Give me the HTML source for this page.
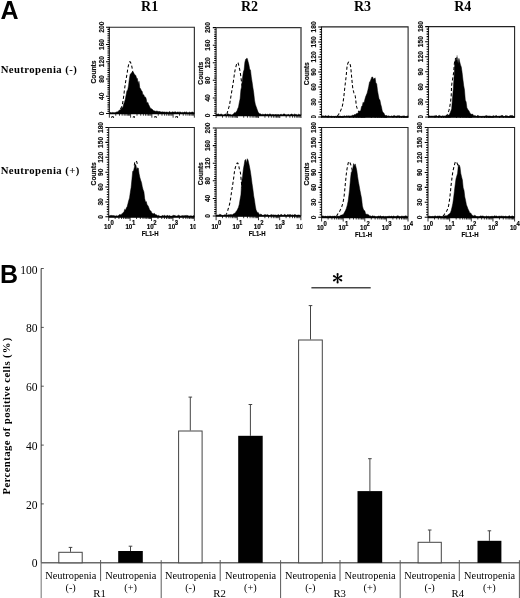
<!DOCTYPE html>
<html><head><meta charset="utf-8"><style>
html,body{margin:0;padding:0;background:#fff}svg{display:block}
text{font-family:"Liberation Sans",sans-serif;fill:#000}
.tk{font-size:7.2px;font-weight:bold;fill:#111}.ct{font-size:6.9px;font-weight:bold;fill:#111}.xt{font-size:7.8px;font-weight:bold}.sup{font-size:6.6px;font-weight:bold}.fl{font-size:7.7px;font-weight:bold}.xt,.sup,.fl,.tk,.ct{stroke:#000;stroke-width:0.18px}
.sb{font-family:"Liberation Serif",serif;font-weight:bold}.sr{font-family:"Liberation Serif",serif}
</style></head><body>
<svg width="520" height="598" viewBox="0 0 520 598">
<defs><clipPath id="c1"><rect x="0" y="0" width="520" height="118"/></clipPath><clipPath id="j0"><rect x="85" y="0" width="111" height="118"/></clipPath><clipPath id="j1"><rect x="196" y="0" width="106.4" height="118"/></clipPath><clipPath id="j2"><rect x="302.4" y="0" width="111" height="118"/></clipPath><clipPath id="j3"><rect x="409" y="0" width="111" height="118"/></clipPath><clipPath id="k0"><rect x="85" y="118" width="110.7" height="130"/></clipPath><clipPath id="k1"><rect x="196" y="118" width="106.4" height="130"/></clipPath><clipPath id="k2"><rect x="302.4" y="118" width="111" height="130"/></clipPath><clipPath id="k3"><rect x="409" y="118" width="111" height="130"/></clipPath><filter id="bl" x="-5%" y="-5%" width="110%" height="110%"><feGaussianBlur stdDeviation="0.35"/></filter></defs>
<rect width="520" height="598" fill="#fff"/>
<g style="opacity:0.999">
<text x="0.6" y="18.7" font-size="25" font-weight="bold">A</text>
<text x="0.0" y="283.2" font-size="25" font-weight="bold">B</text>
<text class="sb" x="149.6" y="10.6" font-size="14" text-anchor="middle">R1</text>
<text class="sb" x="249.5" y="10.6" font-size="14" text-anchor="middle">R2</text>
<text class="sb" x="362.5" y="10.6" font-size="14" text-anchor="middle">R3</text>
<text class="sb" x="462.8" y="10.6" font-size="14" text-anchor="middle">R4</text>
<text class="sb" x="0.7" y="72.5" font-size="10.7" style="letter-spacing:0.42px">Neutropenia (-)</text>
<text class="sb" x="0.7" y="174.3" font-size="10.7" style="letter-spacing:0.42px">Neutropenia (+)</text>
<g filter="url(#bl)">
<g clip-path="url(#c1)">
<g clip-path="url(#j0)"><path d="M120.50,109.00 L120.63,108.72 L120.81,108.38 L121.03,107.98 L121.26,107.51 L121.51,106.98 L121.76,106.39 L121.99,105.73 L122.20,105.00 L122.39,104.20 L122.57,103.33 L122.74,102.39 L122.91,101.38 L123.08,100.32 L123.25,99.19 L123.42,98.02 L123.60,96.80 L123.78,95.50 L123.96,94.12 L124.13,92.67 L124.31,91.17 L124.50,89.64 L124.69,88.11 L124.89,86.59 L125.10,85.10 L125.33,83.60 L125.59,82.04 L125.86,80.46 L126.14,78.89 L126.41,77.36 L126.67,75.92 L126.90,74.58 L127.10,73.40 L127.26,72.38 L127.38,71.51 L127.48,70.76 L127.56,70.08 L127.64,69.45 L127.74,68.83 L127.85,68.19 L128.00,67.50 L128.18,66.71 L128.39,65.83 L128.61,64.91 L128.85,64.01 L129.09,63.19 L129.34,62.49 L129.57,61.98 L129.80,61.70 L130.02,61.68 L130.24,61.86 L130.47,62.23 L130.69,62.72 L130.90,63.30 L131.11,63.94 L131.31,64.58 L131.50,65.20 L131.68,65.84 L131.84,66.58 L132.00,67.37 L132.16,68.19 L132.30,69.00 L132.44,69.78 L132.57,70.49 L132.70,71.10 L132.82,71.63 L132.95,72.10 L133.06,72.53 L133.17,72.92 L133.28,73.26 L133.37,73.55 L133.44,73.80 L133.50,74.00" fill="none" stroke="#000" stroke-width="1.05" stroke-dasharray="3.1 2.2" stroke-linejoin="round"/>
<path d="M109.3,113.5L109.3,112.6L110.1,112.8L110.9,112.3L111.7,112.9L112.5,112.4L113.3,112.6L114.1,113.0L114.9,112.4L115.7,112.4L116.5,111.9L117.3,111.9L118.1,111.4L118.9,110.4L119.7,110.0L120.5,109.8L121.3,108.4L122.1,107.4L122.9,107.4L123.7,104.1L124.5,101.9L125.3,99.3L126.1,95.1L126.9,90.9L127.7,89.9L128.5,85.9L129.3,79.3L130.1,74.6L130.9,73.4L131.7,72.8L132.5,71.4L133.3,72.6L134.2,73.8L135.0,75.1L135.8,75.4L136.6,78.2L137.4,78.5L138.2,83.7L139.0,81.3L139.8,87.8L140.6,88.7L141.4,90.6L142.2,91.4L143.0,94.9L143.8,94.7L144.6,96.9L145.4,96.9L146.2,98.8L147.0,103.2L147.8,102.3L148.6,104.6L149.4,106.1L150.2,107.9L151.0,108.5L151.8,108.9L152.6,109.6L153.4,110.6L154.2,110.9L155.0,110.8L155.8,111.5L156.6,111.0L157.4,111.2L158.2,111.3L159.0,111.9L159.8,111.1L160.6,112.0L161.4,112.0L162.2,111.8L163.0,112.0L163.8,112.0L164.6,111.9L165.4,112.2L166.2,112.1L167.0,112.0L167.8,112.3L168.6,112.4L169.4,111.4L170.2,112.2L171.0,112.2L171.8,112.3L172.6,111.8L173.4,112.1L174.2,112.3L175.0,111.6L175.8,112.1L176.6,112.4L177.4,112.0L178.2,112.0L179.0,112.4L179.8,111.9L180.6,111.9L181.4,112.7L182.2,112.2L183.0,112.5L183.8,112.6L184.6,111.8L185.4,112.4L186.2,111.8L187.0,112.4L187.8,112.7L188.6,112.7L189.4,111.9L190.2,112.4L191.0,112.6L191.8,112.1L192.6,112.0L193.4,112.4L194.2,112.8L194.3,113.5Z" fill="#000" stroke="#000" stroke-width="0.5"/>
<path d="M109.35,113.5V27.2H194.35V113.5" fill="none" stroke="#222" stroke-width="1.1"/>
<path d="M109.35,113.5H194.35" fill="none" stroke="#000" stroke-width="1.7"/>
<path d="M109.35,113.50h-3.3M109.35,111.34h-1.9M109.35,109.19h-1.9M109.35,107.03h-1.9M109.35,104.87h-1.9M109.35,102.71h-1.9M109.35,100.56h-1.9M109.35,98.40h-1.9M109.35,96.24h-3.3M109.35,94.08h-1.9M109.35,91.93h-1.9M109.35,89.77h-1.9M109.35,87.61h-1.9M109.35,85.45h-1.9M109.35,83.30h-1.9M109.35,81.14h-1.9M109.35,78.98h-3.3M109.35,76.82h-1.9M109.35,74.67h-1.9M109.35,72.51h-1.9M109.35,70.35h-1.9M109.35,68.19h-1.9M109.35,66.04h-1.9M109.35,63.88h-1.9M109.35,61.72h-3.3M109.35,59.56h-1.9M109.35,57.41h-1.9M109.35,55.25h-1.9M109.35,53.09h-1.9M109.35,50.93h-1.9M109.35,48.78h-1.9M109.35,46.62h-1.9M109.35,44.46h-3.3M109.35,42.30h-1.9M109.35,40.15h-1.9M109.35,37.99h-1.9M109.35,35.83h-1.9M109.35,33.67h-1.9M109.35,31.52h-1.9M109.35,29.36h-1.9M109.35,27.20h-3.3" stroke="#000" stroke-width="1.05" fill="none"/>
<text class="tk" transform="translate(103.6,113.5) rotate(-90) scale(0.92,1)" text-anchor="middle">0</text>
<text class="tk" transform="translate(103.6,96.2) rotate(-90) scale(0.92,1)" text-anchor="middle">40</text>
<text class="tk" transform="translate(103.6,79.0) rotate(-90) scale(0.92,1)" text-anchor="middle">80</text>
<text class="tk" transform="translate(103.6,61.7) rotate(-90) scale(0.92,1)" text-anchor="middle">120</text>
<text class="tk" transform="translate(103.6,44.5) rotate(-90) scale(0.92,1)" text-anchor="middle">160</text>
<text class="tk" transform="translate(103.6,27.2) rotate(-90) scale(0.92,1)" text-anchor="middle">200</text>
<text class="ct" transform="translate(96.2,72.0) rotate(-90) scale(0.97,1)" text-anchor="middle">Counts</text>
<path d="M109.35,113.5v4.2M115.75,113.5v2.2M119.49,113.5v2.2M122.14,113.5v2.2M124.20,113.5v2.2M125.89,113.5v2.2M127.31,113.5v2.2M128.54,113.5v2.2M129.63,113.5v2.2M130.60,113.5v4.2M137.00,113.5v2.2M140.74,113.5v2.2M143.39,113.5v2.2M145.45,113.5v2.2M147.14,113.5v2.2M148.56,113.5v2.2M149.79,113.5v2.2M150.88,113.5v2.2M151.85,113.5v4.2M158.25,113.5v2.2M161.99,113.5v2.2M164.64,113.5v2.2M166.70,113.5v2.2M168.39,113.5v2.2M169.81,113.5v2.2M171.04,113.5v2.2M172.13,113.5v2.2M173.10,113.5v4.2M179.50,113.5v2.2M183.24,113.5v2.2M185.89,113.5v2.2M187.95,113.5v2.2M189.64,113.5v2.2M191.06,113.5v2.2M192.29,113.5v2.2M193.38,113.5v2.2M194.35,113.5v4.2" stroke="#000" stroke-width="0.8" fill="none"/>
<text class="xt" transform="translate(104.6,124.8) scale(0.8,1)">10</text><text class="sup" transform="translate(111.1,120.8) scale(0.9,1)">0</text>
<text class="xt" transform="translate(125.9,124.8) scale(0.8,1)">10</text><text class="sup" transform="translate(132.4,120.8) scale(0.9,1)">1</text>
<text class="xt" transform="translate(147.2,124.8) scale(0.8,1)">10</text><text class="sup" transform="translate(153.7,120.8) scale(0.9,1)">2</text>
<text class="xt" transform="translate(168.4,124.8) scale(0.8,1)">10</text><text class="sup" transform="translate(174.9,120.8) scale(0.9,1)">3</text>
<text class="xt" transform="translate(189.7,124.8) scale(0.8,1)">10</text><text class="sup" transform="translate(196.2,120.8) scale(0.9,1)">4</text>
<text class="fl" transform="translate(150.5,133.1) scale(0.78,1)" text-anchor="middle">FL1-H</text></g>
<g clip-path="url(#j1)"><path d="M226.90,114.00 L227.10,113.33 L227.37,112.45 L227.69,111.40 L228.04,110.22 L228.41,108.97 L228.77,107.69 L229.11,106.42 L229.40,105.20 L229.65,104.03 L229.87,102.85 L230.08,101.65 L230.28,100.44 L230.47,99.19 L230.67,97.91 L230.87,96.58 L231.10,95.20 L231.34,93.75 L231.60,92.23 L231.87,90.66 L232.14,89.06 L232.41,87.43 L232.68,85.80 L232.94,84.19 L233.20,82.60 L233.44,81.00 L233.67,79.35 L233.90,77.69 L234.12,76.03 L234.35,74.42 L234.59,72.87 L234.84,71.42 L235.10,70.10 L235.39,68.82 L235.69,67.52 L236.01,66.26 L236.33,65.10 L236.66,64.09 L236.98,63.30 L237.30,62.79 L237.60,62.60 L237.89,62.80 L238.19,63.36 L238.48,64.20 L238.76,65.26 L239.04,66.45 L239.31,67.70 L239.56,68.94 L239.80,70.10 L240.02,71.23 L240.23,72.43 L240.43,73.67 L240.61,74.95 L240.79,76.25 L240.96,77.55 L241.13,78.84 L241.30,80.10 L241.47,81.41 L241.65,82.81 L241.82,84.25 L241.99,85.67 L242.15,87.02 L242.29,88.22 L242.41,89.24 L242.50,90.00" fill="none" stroke="#000" stroke-width="1.05" stroke-dasharray="3.1 2.2" stroke-linejoin="round"/>
<path d="M216.1,115.5L216.1,114.1L216.9,114.6L217.7,114.1L218.5,113.9L219.3,114.6L220.1,114.6L220.9,114.0L221.7,114.2L222.5,114.8L223.3,114.9L224.1,114.8L224.9,114.0L225.7,114.1L226.5,114.8L227.3,114.1L228.1,113.9L228.9,114.3L229.7,114.6L230.5,114.4L231.3,114.9L232.1,115.0L232.9,114.3L233.7,113.7L234.5,112.6L235.3,112.9L236.1,111.8L236.9,110.9L237.7,108.7L238.5,107.1L239.3,102.4L240.1,98.9L240.9,89.8L241.7,86.5L242.5,78.1L243.3,72.1L244.1,69.8L244.9,62.1L245.7,59.2L246.5,58.4L247.3,58.4L248.1,61.6L248.9,64.6L249.7,69.2L250.5,70.0L251.3,76.9L252.1,82.0L252.9,87.6L253.7,92.6L254.5,100.0L255.3,104.2L256.1,106.5L256.9,108.7L257.7,111.1L258.5,112.8L259.3,113.4L260.1,114.0L260.9,113.8L261.7,114.8L262.5,114.2L263.3,114.3L264.1,114.8L264.9,114.0L265.7,113.9L266.5,114.8L267.3,114.0L268.1,114.6L268.9,114.5L269.7,113.9L270.5,114.1L271.3,114.8L272.1,114.5L272.9,114.4L273.7,114.6L274.5,114.8L275.3,114.6L276.1,114.2L276.9,115.0L277.7,114.4L278.5,114.5L279.3,115.0L280.1,114.6L280.9,114.3L281.7,114.4L282.5,114.9L283.3,113.9L284.1,114.1L284.9,113.9L285.7,114.9L286.5,114.7L287.3,115.0L288.1,114.1L288.9,114.7L289.7,114.9L290.5,114.5L291.3,114.0L292.1,114.1L292.9,114.7L293.7,114.8L294.5,114.0L295.3,114.4L296.1,114.2L296.9,114.9L297.7,114.9L298.5,114.2L299.3,114.5L300.1,114.9L300.9,114.0L301.0,115.5Z" fill="#000" stroke="#000" stroke-width="0.5"/>
<path d="M216.1,115.5V27.6" fill="none" stroke="#222" stroke-width="1.1"/>
<path d="M216.1,27.6H301.0" fill="none" stroke="#333" stroke-width="1.2"/>
<path d="M301.0,27.1V115.5" fill="none" stroke="#555" stroke-width="1.5"/>
<path d="M216.1,115.5H301.0" fill="none" stroke="#000" stroke-width="1.7"/>
<path d="M216.1,115.50h-3.3M216.1,113.30h-1.9M216.1,111.11h-1.9M216.1,108.91h-1.9M216.1,106.71h-1.9M216.1,104.51h-1.9M216.1,102.31h-1.9M216.1,100.12h-1.9M216.1,97.92h-3.3M216.1,95.72h-1.9M216.1,93.53h-1.9M216.1,91.33h-1.9M216.1,89.13h-1.9M216.1,86.93h-1.9M216.1,84.73h-1.9M216.1,82.54h-1.9M216.1,80.34h-3.3M216.1,78.14h-1.9M216.1,75.95h-1.9M216.1,73.75h-1.9M216.1,71.55h-1.9M216.1,69.35h-1.9M216.1,67.16h-1.9M216.1,64.96h-1.9M216.1,62.76h-3.3M216.1,60.56h-1.9M216.1,58.36h-1.9M216.1,56.17h-1.9M216.1,53.97h-1.9M216.1,51.77h-1.9M216.1,49.57h-1.9M216.1,47.38h-1.9M216.1,45.18h-3.3M216.1,42.98h-1.9M216.1,40.78h-1.9M216.1,38.59h-1.9M216.1,36.39h-1.9M216.1,34.19h-1.9M216.1,31.99h-1.9M216.1,29.80h-1.9M216.1,27.60h-3.3" stroke="#000" stroke-width="1.05" fill="none"/>
<text class="tk" transform="translate(210.4,115.5) rotate(-90) scale(0.92,1)" text-anchor="middle">0</text>
<text class="tk" transform="translate(210.4,97.9) rotate(-90) scale(0.92,1)" text-anchor="middle">40</text>
<text class="tk" transform="translate(210.4,80.3) rotate(-90) scale(0.92,1)" text-anchor="middle">80</text>
<text class="tk" transform="translate(210.4,62.8) rotate(-90) scale(0.92,1)" text-anchor="middle">120</text>
<text class="tk" transform="translate(210.4,45.2) rotate(-90) scale(0.92,1)" text-anchor="middle">160</text>
<text class="tk" transform="translate(210.4,27.6) rotate(-90) scale(0.92,1)" text-anchor="middle">200</text>
<text class="ct" transform="translate(203.0,73.2) rotate(-90) scale(0.97,1)" text-anchor="middle">Counts</text>
<path d="M216.10,115.5v4.2M222.49,115.5v2.2M226.23,115.5v2.2M228.88,115.5v2.2M230.94,115.5v2.2M232.62,115.5v2.2M234.04,115.5v2.2M235.27,115.5v2.2M236.35,115.5v2.2M237.32,115.5v4.2M243.71,115.5v2.2M247.45,115.5v2.2M250.10,115.5v2.2M252.16,115.5v2.2M253.84,115.5v2.2M255.26,115.5v2.2M256.49,115.5v2.2M257.58,115.5v2.2M258.55,115.5v4.2M264.94,115.5v2.2M268.68,115.5v2.2M271.33,115.5v2.2M273.39,115.5v2.2M275.07,115.5v2.2M276.49,115.5v2.2M277.72,115.5v2.2M278.80,115.5v2.2M279.77,115.5v4.2M286.16,115.5v2.2M289.90,115.5v2.2M292.55,115.5v2.2M294.61,115.5v2.2M296.29,115.5v2.2M297.71,115.5v2.2M298.94,115.5v2.2M300.03,115.5v2.2M301.00,115.5v4.2" stroke="#000" stroke-width="0.8" fill="none"/>
<text class="xt" transform="translate(211.4,126.8) scale(0.8,1)">10</text><text class="sup" transform="translate(217.9,122.8) scale(0.9,1)">0</text>
<text class="xt" transform="translate(232.6,126.8) scale(0.8,1)">10</text><text class="sup" transform="translate(239.1,122.8) scale(0.9,1)">1</text>
<text class="xt" transform="translate(253.9,126.8) scale(0.8,1)">10</text><text class="sup" transform="translate(260.4,122.8) scale(0.9,1)">2</text>
<text class="xt" transform="translate(275.1,126.8) scale(0.8,1)">10</text><text class="sup" transform="translate(281.6,122.8) scale(0.9,1)">3</text>
<text class="xt" transform="translate(296.3,126.8) scale(0.8,1)">10</text><text class="sup" transform="translate(302.8,122.8) scale(0.9,1)">4</text>
<text class="fl" transform="translate(257.2,135.1) scale(0.78,1)" text-anchor="middle">FL1-H</text></g>
<g clip-path="url(#j2)"><path d="M337.50,116.00 L337.59,115.87 L337.71,115.70 L337.85,115.50 L338.01,115.27 L338.18,115.02 L338.35,114.76 L338.53,114.48 L338.70,114.20 L338.87,113.92 L339.04,113.65 L339.21,113.37 L339.39,113.08 L339.58,112.75 L339.78,112.39 L339.98,111.97 L340.20,111.50 L340.44,110.97 L340.70,110.39 L340.98,109.77 L341.26,109.11 L341.54,108.40 L341.82,107.67 L342.07,106.90 L342.30,106.10 L342.50,105.28 L342.68,104.43 L342.85,103.56 L343.01,102.64 L343.15,101.69 L343.30,100.68 L343.45,99.62 L343.60,98.50 L343.75,97.30 L343.90,96.01 L344.05,94.65 L344.20,93.26 L344.35,91.83 L344.50,90.40 L344.65,88.99 L344.80,87.60 L344.96,86.24 L345.12,84.87 L345.29,83.51 L345.46,82.14 L345.62,80.78 L345.79,79.42 L345.95,78.06 L346.10,76.70 L346.24,75.30 L346.38,73.83 L346.51,72.34 L346.63,70.86 L346.76,69.43 L346.89,68.11 L347.04,66.91 L347.20,65.90 L347.38,65.04 L347.56,64.28 L347.76,63.63 L347.96,63.09 L348.17,62.66 L348.38,62.35 L348.59,62.16 L348.80,62.10 L349.01,62.16 L349.23,62.35 L349.46,62.66 L349.68,63.09 L349.90,63.63 L350.11,64.28 L350.32,65.04 L350.50,65.90 L350.67,66.91 L350.82,68.11 L350.96,69.43 L351.09,70.86 L351.21,72.34 L351.34,73.83 L351.47,75.30 L351.60,76.70 L351.74,78.10 L351.88,79.57 L352.02,81.07 L352.16,82.55 L352.29,83.98 L352.43,85.33 L352.57,86.55 L352.70,87.60 L352.83,88.47 L352.95,89.19 L353.07,89.78 L353.19,90.28 L353.31,90.72 L353.43,91.14 L353.56,91.55 L353.70,92.00 L353.85,92.46 L354.02,92.88 L354.20,93.28 L354.38,93.67 L354.55,94.05 L354.72,94.42 L354.87,94.80 L355.00,95.20 L355.11,95.58 L355.19,95.92 L355.26,96.24 L355.33,96.58 L355.38,96.94 L355.45,97.37 L355.52,97.88 L355.60,98.50 L355.69,99.26 L355.78,100.15 L355.86,101.13 L355.96,102.17 L356.06,103.22 L356.18,104.25 L356.33,105.23 L356.50,106.10 L356.71,106.90 L356.95,107.66 L357.21,108.39 L357.49,109.09 L357.77,109.75 L358.06,110.37 L358.34,110.95 L358.60,111.50 L358.86,112.01 L359.13,112.49 L359.41,112.93 L359.68,113.34 L359.94,113.70 L360.16,114.02 L360.35,114.28 L360.50,114.50" fill="none" stroke="#000" stroke-width="1.05" stroke-dasharray="3.1 2.2" stroke-linejoin="round"/>
<path d="M321.5,117.0L321.5,115.8L322.3,115.6L323.1,116.4L323.9,115.6L324.7,116.4L325.5,115.6L326.3,116.0L327.1,116.1L327.9,115.9L328.7,115.5L329.5,116.2L330.3,116.4L331.1,115.9L331.9,116.2L332.7,116.4L333.5,116.3L334.3,116.4L335.1,116.3L335.9,116.2L336.7,116.2L337.5,115.7L338.3,116.2L339.1,115.9L339.9,116.3L340.7,116.1L341.5,116.5L342.3,116.2L343.1,116.5L343.9,115.7L344.7,115.9L345.5,116.3L346.3,116.0L347.1,115.5L347.9,116.4L348.7,115.6L349.5,116.0L350.3,116.0L351.1,115.8L351.9,115.8L352.7,115.1L353.5,115.3L354.3,114.5L355.1,114.7L355.9,114.0L356.7,113.4L357.5,113.2L358.3,112.9L359.1,111.2L359.9,111.0L360.7,110.7L361.5,106.5L362.3,105.9L363.1,102.2L363.9,103.2L364.7,100.1L365.5,97.1L366.3,95.1L367.1,93.2L367.9,90.1L368.7,86.4L369.5,82.1L370.3,81.2L371.1,78.9L371.9,76.9L372.7,77.1L373.5,79.2L374.3,78.6L375.1,77.8L375.9,83.0L376.7,83.7L377.5,90.5L378.3,95.1L379.1,98.9L379.9,99.9L380.7,104.1L381.5,107.0L382.3,111.1L383.1,112.6L383.9,113.0L384.7,115.0L385.5,115.5L386.3,115.5L387.1,115.6L387.9,116.4L388.7,115.7L389.5,116.2L390.3,116.4L391.1,116.2L391.9,115.7L392.7,116.3L393.5,115.7L394.3,115.4L395.1,116.0L395.9,116.1L396.7,116.0L397.5,115.7L398.3,115.7L399.1,115.8L399.9,115.8L400.7,116.4L401.5,116.3L402.3,116.2L403.1,115.7L403.9,116.2L404.7,115.9L405.5,116.5L406.3,116.4L407.1,116.2L407.9,115.8L408.1,117.0Z" fill="#000" stroke="#000" stroke-width="0.5"/>
<path d="M321.5,117.0V26.9H408.1V117.0" fill="none" stroke="#222" stroke-width="1.1"/>
<path d="M321.5,117.0H408.1" fill="none" stroke="#000" stroke-width="1.7"/>
<path d="M321.5,117.00h-3.3M321.5,114.50h-1.9M321.5,111.99h-1.9M321.5,109.49h-1.9M321.5,106.99h-1.9M321.5,104.49h-1.9M321.5,101.98h-3.3M321.5,99.48h-1.9M321.5,96.98h-1.9M321.5,94.47h-1.9M321.5,91.97h-1.9M321.5,89.47h-1.9M321.5,86.97h-3.3M321.5,84.46h-1.9M321.5,81.96h-1.9M321.5,79.46h-1.9M321.5,76.96h-1.9M321.5,74.45h-1.9M321.5,71.95h-3.3M321.5,69.45h-1.9M321.5,66.94h-1.9M321.5,64.44h-1.9M321.5,61.94h-1.9M321.5,59.44h-1.9M321.5,56.93h-3.3M321.5,54.43h-1.9M321.5,51.93h-1.9M321.5,49.43h-1.9M321.5,46.92h-1.9M321.5,44.42h-1.9M321.5,41.92h-3.3M321.5,39.41h-1.9M321.5,36.91h-1.9M321.5,34.41h-1.9M321.5,31.91h-1.9M321.5,29.40h-1.9M321.5,26.90h-3.3" stroke="#000" stroke-width="1.05" fill="none"/>
<text class="tk" transform="translate(315.8,117.0) rotate(-90) scale(0.92,1)" text-anchor="middle">0</text>
<text class="tk" transform="translate(315.8,102.0) rotate(-90) scale(0.92,1)" text-anchor="middle">30</text>
<text class="tk" transform="translate(315.8,87.0) rotate(-90) scale(0.92,1)" text-anchor="middle">60</text>
<text class="tk" transform="translate(315.8,72.0) rotate(-90) scale(0.92,1)" text-anchor="middle">90</text>
<text class="tk" transform="translate(315.8,56.9) rotate(-90) scale(0.92,1)" text-anchor="middle">120</text>
<text class="tk" transform="translate(315.8,41.9) rotate(-90) scale(0.92,1)" text-anchor="middle">150</text>
<text class="tk" transform="translate(315.8,26.9) rotate(-90) scale(0.92,1)" text-anchor="middle">180</text>
<text class="ct" transform="translate(309.2,73.7) rotate(-90) scale(0.97,1)" text-anchor="middle">Counts</text>
<path d="M321.50,117.0v4.2M328.02,117.0v2.2M331.83,117.0v2.2M334.53,117.0v2.2M336.63,117.0v2.2M338.35,117.0v2.2M339.80,117.0v2.2M341.05,117.0v2.2M342.16,117.0v2.2M343.15,117.0v4.2M349.67,117.0v2.2M353.48,117.0v2.2M356.18,117.0v2.2M358.28,117.0v2.2M360.00,117.0v2.2M361.45,117.0v2.2M362.70,117.0v2.2M363.81,117.0v2.2M364.80,117.0v4.2M371.32,117.0v2.2M375.13,117.0v2.2M377.83,117.0v2.2M379.93,117.0v2.2M381.65,117.0v2.2M383.10,117.0v2.2M384.35,117.0v2.2M385.46,117.0v2.2M386.45,117.0v4.2M392.97,117.0v2.2M396.78,117.0v2.2M399.48,117.0v2.2M401.58,117.0v2.2M403.30,117.0v2.2M404.75,117.0v2.2M406.00,117.0v2.2M407.11,117.0v2.2M408.10,117.0v4.2" stroke="#000" stroke-width="0.8" fill="none"/>
<text class="xt" transform="translate(316.8,128.3) scale(0.8,1)">10</text><text class="sup" transform="translate(323.3,124.3) scale(0.9,1)">0</text>
<text class="xt" transform="translate(338.4,128.3) scale(0.8,1)">10</text><text class="sup" transform="translate(344.9,124.3) scale(0.9,1)">1</text>
<text class="xt" transform="translate(360.1,128.3) scale(0.8,1)">10</text><text class="sup" transform="translate(366.6,124.3) scale(0.9,1)">2</text>
<text class="xt" transform="translate(381.8,128.3) scale(0.8,1)">10</text><text class="sup" transform="translate(388.3,124.3) scale(0.9,1)">3</text>
<text class="xt" transform="translate(403.4,128.3) scale(0.8,1)">10</text><text class="sup" transform="translate(409.9,124.3) scale(0.9,1)">4</text>
<text class="fl" transform="translate(363.5,136.6) scale(0.78,1)" text-anchor="middle">FL1-H</text></g>
<g clip-path="url(#j3)"><path d="M445.50,116.30 L445.64,116.17 L445.82,116.03 L446.03,115.86 L446.27,115.66 L446.52,115.42 L446.79,115.11 L447.05,114.75 L447.30,114.30 L447.55,113.80 L447.81,113.26 L448.08,112.66 L448.36,112.01 L448.63,111.27 L448.90,110.45 L449.15,109.53 L449.40,108.50 L449.64,107.32 L449.88,105.99 L450.12,104.54 L450.34,103.02 L450.56,101.45 L450.76,99.86 L450.94,98.30 L451.10,96.80 L451.22,95.34 L451.30,93.88 L451.35,92.41 L451.39,90.95 L451.44,89.49 L451.49,88.02 L451.58,86.56 L451.70,85.10 L451.87,83.64 L452.08,82.17 L452.32,80.71 L452.57,79.25 L452.82,77.79 L453.07,76.33 L453.30,74.86 L453.50,73.40 L453.67,71.88 L453.82,70.29 L453.96,68.66 L454.09,67.05 L454.21,65.50 L454.33,64.06 L454.46,62.78 L454.60,61.70 L454.75,60.83 L454.92,60.13 L455.10,59.56 L455.27,59.12 L455.43,58.76 L455.58,58.48 L455.71,58.23 L455.80,58.00" fill="none" stroke="#000" stroke-width="1.05" stroke-dasharray="3.1 2.2" stroke-linejoin="round"/>
<path d="M428.5,117.0L428.5,115.7L429.3,115.8L430.1,116.2L430.9,115.9L431.7,116.0L432.5,116.0L433.3,116.4L434.1,115.5L434.9,116.3L435.7,115.4L436.5,115.5L437.3,116.5L438.1,116.0L438.9,115.6L439.7,115.4L440.5,116.0L441.3,116.2L442.1,116.3L442.9,115.5L443.7,116.3L444.5,115.9L445.3,116.3L446.1,115.7L446.9,115.4L447.7,115.0L448.5,115.1L449.3,114.8L450.1,112.9L450.9,110.9L451.7,108.5L452.5,97.8L453.3,88.7L454.1,76.3L454.9,61.2L455.7,58.8L456.5,57.5L457.3,57.5L458.1,63.4L458.9,58.4L459.7,61.8L460.5,64.9L461.3,67.1L462.1,72.6L462.9,79.3L463.7,85.6L464.5,90.1L465.3,100.2L466.1,101.8L466.9,107.7L467.7,109.3L468.5,110.3L469.3,111.5L470.1,113.2L470.9,114.0L471.7,114.3L472.5,114.0L473.3,115.1L474.1,115.9L474.9,115.3L475.7,115.9L476.5,116.3L477.3,115.5L478.1,115.4L478.9,116.0L479.7,116.3L480.5,116.3L481.3,116.4L482.1,116.1L482.9,116.4L483.7,116.2L484.5,116.2L485.3,115.9L486.1,115.5L486.9,115.7L487.7,116.0L488.5,116.0L489.3,115.9L490.1,116.1L490.9,116.1L491.7,116.4L492.5,116.2L493.3,115.4L494.1,116.4L494.9,115.9L495.7,115.8L496.5,115.6L497.3,116.3L498.1,116.2L498.9,116.2L499.7,116.1L500.5,116.0L501.3,115.5L502.1,115.6L502.9,115.5L503.7,116.5L504.5,116.5L505.3,115.7L506.1,115.5L506.9,116.0L507.7,115.9L508.5,116.5L509.3,116.1L510.1,115.5L510.9,115.6L511.7,115.6L512.5,115.4L513.3,116.2L514.1,116.4L514.6,117.0Z" fill="#000" stroke="#000" stroke-width="0.5"/>
<path d="M428.5,117.0V26.6H514.6V117.0" fill="none" stroke="#222" stroke-width="1.1"/>
<path d="M428.5,117.0H514.6" fill="none" stroke="#000" stroke-width="1.7"/>
<path d="M428.5,117.00h-3.3M428.5,114.49h-1.9M428.5,111.98h-1.9M428.5,109.47h-1.9M428.5,106.96h-1.9M428.5,104.44h-1.9M428.5,101.93h-3.3M428.5,99.42h-1.9M428.5,96.91h-1.9M428.5,94.40h-1.9M428.5,91.89h-1.9M428.5,89.38h-1.9M428.5,86.87h-3.3M428.5,84.36h-1.9M428.5,81.84h-1.9M428.5,79.33h-1.9M428.5,76.82h-1.9M428.5,74.31h-1.9M428.5,71.80h-3.3M428.5,69.29h-1.9M428.5,66.78h-1.9M428.5,64.27h-1.9M428.5,61.76h-1.9M428.5,59.24h-1.9M428.5,56.73h-3.3M428.5,54.22h-1.9M428.5,51.71h-1.9M428.5,49.20h-1.9M428.5,46.69h-1.9M428.5,44.18h-1.9M428.5,41.67h-3.3M428.5,39.16h-1.9M428.5,36.64h-1.9M428.5,34.13h-1.9M428.5,31.62h-1.9M428.5,29.11h-1.9M428.5,26.60h-3.3" stroke="#000" stroke-width="1.05" fill="none"/>
<text class="tk" transform="translate(422.8,117.0) rotate(-90) scale(0.92,1)" text-anchor="middle">0</text>
<text class="tk" transform="translate(422.8,101.9) rotate(-90) scale(0.92,1)" text-anchor="middle">30</text>
<text class="tk" transform="translate(422.8,86.9) rotate(-90) scale(0.92,1)" text-anchor="middle">60</text>
<text class="tk" transform="translate(422.8,71.8) rotate(-90) scale(0.92,1)" text-anchor="middle">90</text>
<text class="tk" transform="translate(422.8,56.7) rotate(-90) scale(0.92,1)" text-anchor="middle">120</text>
<text class="tk" transform="translate(422.8,41.7) rotate(-90) scale(0.92,1)" text-anchor="middle">150</text>
<text class="tk" transform="translate(422.8,26.6) rotate(-90) scale(0.92,1)" text-anchor="middle">180</text>
<path d="M428.50,117.0v4.2M434.98,117.0v2.2M438.77,117.0v2.2M441.46,117.0v2.2M443.55,117.0v2.2M445.25,117.0v2.2M446.69,117.0v2.2M447.94,117.0v2.2M449.04,117.0v2.2M450.02,117.0v4.2M456.50,117.0v2.2M460.30,117.0v2.2M462.98,117.0v2.2M465.07,117.0v2.2M466.77,117.0v2.2M468.22,117.0v2.2M469.46,117.0v2.2M470.57,117.0v2.2M471.55,117.0v4.2M478.03,117.0v2.2M481.82,117.0v2.2M484.51,117.0v2.2M486.60,117.0v2.2M488.30,117.0v2.2M489.74,117.0v2.2M490.99,117.0v2.2M492.09,117.0v2.2M493.08,117.0v4.2M499.55,117.0v2.2M503.35,117.0v2.2M506.03,117.0v2.2M508.12,117.0v2.2M509.82,117.0v2.2M511.27,117.0v2.2M512.51,117.0v2.2M513.62,117.0v2.2M514.60,117.0v4.2" stroke="#000" stroke-width="0.8" fill="none"/>
<text class="xt" transform="translate(423.8,128.3) scale(0.8,1)">10</text><text class="sup" transform="translate(430.3,124.3) scale(0.9,1)">0</text>
<text class="xt" transform="translate(445.3,128.3) scale(0.8,1)">10</text><text class="sup" transform="translate(451.8,124.3) scale(0.9,1)">1</text>
<text class="xt" transform="translate(466.9,128.3) scale(0.8,1)">10</text><text class="sup" transform="translate(473.4,124.3) scale(0.9,1)">2</text>
<text class="xt" transform="translate(488.4,128.3) scale(0.8,1)">10</text><text class="sup" transform="translate(494.9,124.3) scale(0.9,1)">3</text>
<text class="xt" transform="translate(509.9,128.3) scale(0.8,1)">10</text><text class="sup" transform="translate(516.4,124.3) scale(0.9,1)">4</text>
<text class="fl" transform="translate(470.2,136.6) scale(0.78,1)" text-anchor="middle">FL1-H</text></g>
<path d="M457.1,55.4V60" stroke="#666" stroke-width="0.9" fill="none"/>
</g>
<g clip-path="url(#k0)"><path d="M134.30,165.50 L134.34,165.24 L134.38,164.88 L134.43,164.45 L134.49,163.98 L134.55,163.50 L134.63,163.04 L134.71,162.63 L134.80,162.30 L134.90,162.03 L135.01,161.78 L135.13,161.56 L135.26,161.37 L135.40,161.21 L135.53,161.10 L135.67,161.03 L135.80,161.00 L135.94,161.03 L136.08,161.11 L136.23,161.24 L136.38,161.40 L136.53,161.60 L136.66,161.82 L136.79,162.05 L136.90,162.30 L136.99,162.59 L137.08,162.94 L137.15,163.33 L137.22,163.73 L137.28,164.12 L137.32,164.48 L137.37,164.78 L137.40,165.00" fill="none" stroke="#000" stroke-width="1.05" stroke-dasharray="3.1 2.2" stroke-linejoin="round"/>
<path d="M108.7,216.8L108.7,216.1L109.5,215.7L110.3,215.5L111.1,215.3L111.9,215.5L112.7,215.6L113.5,215.5L114.3,215.8L115.1,215.7L115.9,216.3L116.7,215.4L117.5,216.0L118.3,215.8L119.1,214.8L119.9,214.6L120.7,214.8L121.5,214.2L122.3,213.4L123.1,212.5L123.9,212.3L124.7,209.3L125.5,210.1L126.3,208.0L127.1,206.8L127.9,203.8L128.7,200.5L129.5,197.9L130.3,192.3L131.1,187.6L131.9,179.4L132.7,171.3L133.5,171.0L134.3,167.5L135.1,164.6L135.9,164.7L136.7,169.5L137.5,167.8L138.3,168.1L139.1,173.8L139.9,177.5L140.7,180.3L141.5,182.4L142.3,186.7L143.1,189.7L143.9,191.8L144.7,198.6L145.5,202.0L146.3,201.6L147.1,205.0L147.9,205.4L148.7,207.3L149.5,209.6L150.3,210.7L151.1,211.2L151.9,213.0L152.7,213.6L153.5,213.8L154.3,213.3L155.1,214.1L155.9,214.9L156.7,214.8L157.5,215.8L158.3,215.4L159.1,215.5L159.9,216.3L160.7,216.3L161.5,216.2L162.3,215.3L163.1,216.0L163.9,215.5L164.7,215.3L165.5,215.9L166.3,216.0L167.1,215.2L167.9,215.6L168.7,216.0L169.5,215.5L170.3,216.0L171.1,216.0L171.9,216.3L172.7,215.5L173.5,215.3L174.3,215.6L175.1,215.3L175.9,216.3L176.7,216.0L177.5,215.8L178.3,215.2L179.1,215.3L179.9,215.9L180.7,216.0L181.5,215.8L182.3,215.8L183.1,215.3L183.9,216.1L184.7,215.4L185.5,215.5L186.3,215.4L187.1,215.4L187.9,215.6L188.7,215.9L189.5,215.9L190.3,215.9L191.1,215.4L191.9,216.2L192.7,216.1L193.5,215.5L194.3,216.0L194.3,216.8Z" fill="#000" stroke="#000" stroke-width="0.5"/>
<path d="M108.7,216.8V127.5H194.35V216.8" fill="none" stroke="#222" stroke-width="1.1"/>
<path d="M108.7,216.8H194.35" fill="none" stroke="#000" stroke-width="1.7"/>
<path d="M108.7,216.80h-3.3M108.7,214.32h-1.9M108.7,211.84h-1.9M108.7,209.36h-1.9M108.7,206.88h-1.9M108.7,204.40h-1.9M108.7,201.92h-3.3M108.7,199.44h-1.9M108.7,196.96h-1.9M108.7,194.48h-1.9M108.7,191.99h-1.9M108.7,189.51h-1.9M108.7,187.03h-3.3M108.7,184.55h-1.9M108.7,182.07h-1.9M108.7,179.59h-1.9M108.7,177.11h-1.9M108.7,174.63h-1.9M108.7,172.15h-3.3M108.7,169.67h-1.9M108.7,167.19h-1.9M108.7,164.71h-1.9M108.7,162.23h-1.9M108.7,159.75h-1.9M108.7,157.27h-3.3M108.7,154.79h-1.9M108.7,152.31h-1.9M108.7,149.83h-1.9M108.7,147.34h-1.9M108.7,144.86h-1.9M108.7,142.38h-3.3M108.7,139.90h-1.9M108.7,137.42h-1.9M108.7,134.94h-1.9M108.7,132.46h-1.9M108.7,129.98h-1.9M108.7,127.50h-3.3" stroke="#000" stroke-width="1.05" fill="none"/>
<text class="tk" transform="translate(103.0,216.8) rotate(-90) scale(0.92,1)" text-anchor="middle">0</text>
<text class="tk" transform="translate(103.0,201.9) rotate(-90) scale(0.92,1)" text-anchor="middle">30</text>
<text class="tk" transform="translate(103.0,187.0) rotate(-90) scale(0.92,1)" text-anchor="middle">60</text>
<text class="tk" transform="translate(103.0,172.2) rotate(-90) scale(0.92,1)" text-anchor="middle">90</text>
<text class="tk" transform="translate(103.0,157.3) rotate(-90) scale(0.92,1)" text-anchor="middle">120</text>
<text class="tk" transform="translate(103.0,142.4) rotate(-90) scale(0.92,1)" text-anchor="middle">150</text>
<text class="tk" transform="translate(103.0,127.5) rotate(-90) scale(0.92,1)" text-anchor="middle">180</text>
<text class="ct" transform="translate(95.6,173.9) rotate(-90) scale(0.97,1)" text-anchor="middle">Counts</text>
<path d="M108.70,216.8v4.2M115.15,216.8v2.2M118.92,216.8v2.2M121.59,216.8v2.2M123.67,216.8v2.2M125.36,216.8v2.2M126.80,216.8v2.2M128.04,216.8v2.2M129.13,216.8v2.2M130.11,216.8v4.2M136.56,216.8v2.2M140.33,216.8v2.2M143.00,216.8v2.2M145.08,216.8v2.2M146.77,216.8v2.2M148.21,216.8v2.2M149.45,216.8v2.2M150.55,216.8v2.2M151.53,216.8v4.2M157.97,216.8v2.2M161.74,216.8v2.2M164.42,216.8v2.2M166.49,216.8v2.2M168.19,216.8v2.2M169.62,216.8v2.2M170.86,216.8v2.2M171.96,216.8v2.2M172.94,216.8v4.2M179.38,216.8v2.2M183.15,216.8v2.2M185.83,216.8v2.2M187.90,216.8v2.2M189.60,216.8v2.2M191.03,216.8v2.2M192.27,216.8v2.2M193.37,216.8v2.2M194.35,216.8v4.2" stroke="#000" stroke-width="0.8" fill="none"/>
<text class="xt" transform="translate(104.0,229.4) scale(0.8,1)">10</text><text class="sup" transform="translate(110.5,225.4) scale(0.9,1)">0</text>
<text class="xt" transform="translate(125.4,229.4) scale(0.8,1)">10</text><text class="sup" transform="translate(131.9,225.4) scale(0.9,1)">1</text>
<text class="xt" transform="translate(146.8,229.4) scale(0.8,1)">10</text><text class="sup" transform="translate(153.3,225.4) scale(0.9,1)">2</text>
<text class="xt" transform="translate(168.2,229.4) scale(0.8,1)">10</text><text class="sup" transform="translate(174.7,225.4) scale(0.9,1)">3</text>
<text class="xt" transform="translate(189.7,229.4) scale(0.8,1)">10</text><text class="sup" transform="translate(196.2,225.4) scale(0.9,1)">4</text>
<text class="fl" transform="translate(150.2,236.4) scale(0.78,1)" text-anchor="middle">FL1-H</text></g>
<g clip-path="url(#k1)"><path d="M225.50,215.60 L225.57,215.49 L225.65,215.35 L225.76,215.19 L225.88,215.00 L226.00,214.79 L226.13,214.55 L226.27,214.29 L226.40,214.00 L226.53,213.71 L226.65,213.43 L226.78,213.14 L226.91,212.81 L227.06,212.44 L227.22,211.99 L227.40,211.45 L227.60,210.80 L227.84,210.04 L228.11,209.18 L228.40,208.25 L228.71,207.23 L229.03,206.15 L229.33,205.01 L229.63,203.83 L229.90,202.60 L230.15,201.30 L230.39,199.92 L230.61,198.47 L230.83,196.97 L231.05,195.44 L231.26,193.91 L231.48,192.39 L231.70,190.90 L231.93,189.41 L232.17,187.89 L232.41,186.36 L232.64,184.83 L232.88,183.33 L233.10,181.88 L233.31,180.50 L233.50,179.20 L233.67,177.99 L233.82,176.84 L233.95,175.75 L234.07,174.71 L234.20,173.72 L234.32,172.78 L234.45,171.87 L234.60,171.00 L234.76,170.16 L234.93,169.37 L235.10,168.61 L235.27,167.90 L235.45,167.23 L235.64,166.61 L235.82,166.03 L236.00,165.50 L236.19,165.00 L236.38,164.54 L236.58,164.11 L236.78,163.73 L236.97,163.40 L237.16,163.15 L237.34,162.98 L237.50,162.90 L237.65,162.93 L237.79,163.06 L237.92,163.27 L238.04,163.56 L238.16,163.89 L238.28,164.25 L238.39,164.63 L238.50,165.00 L238.61,165.38 L238.70,165.79 L238.80,166.23 L238.89,166.69 L238.98,167.17 L239.08,167.67 L239.18,168.18 L239.30,168.70 L239.43,169.22 L239.58,169.72 L239.74,170.24 L239.90,170.77 L240.06,171.34 L240.22,171.96 L240.37,172.64 L240.50,173.40 L240.62,174.27 L240.73,175.25 L240.83,176.30 L240.93,177.39 L241.02,178.50 L241.12,179.59 L241.21,180.64 L241.30,181.60 L241.40,182.53 L241.50,183.48 L241.60,184.41 L241.70,185.31 L241.79,186.15 L241.88,186.89 L241.95,187.52 L242.00,188.00" fill="none" stroke="#000" stroke-width="1.05" stroke-dasharray="3.1 2.2" stroke-linejoin="round"/>
<path d="M216.1,216.0L216.1,215.4L216.9,215.5L217.7,214.9L218.5,215.1L219.3,214.4L220.1,214.5L220.9,214.4L221.7,215.2L222.5,215.4L223.3,215.4L224.1,215.0L224.9,214.7L225.7,215.0L226.5,215.2L227.3,215.0L228.1,214.8L228.9,214.8L229.7,214.7L230.5,214.6L231.3,214.4L232.1,214.9L232.9,214.2L233.7,213.8L234.5,213.3L235.3,212.9L236.1,211.4L236.9,210.6L237.7,209.0L238.5,207.2L239.3,204.2L240.1,199.3L240.9,194.9L241.7,181.5L242.5,176.9L243.3,169.6L244.1,165.1L244.9,160.2L245.7,159.4L246.5,162.9L247.3,158.7L248.1,160.3L248.9,163.8L249.7,167.6L250.5,172.1L251.3,177.7L252.1,184.0L252.9,189.3L253.7,195.8L254.5,200.2L255.3,206.0L256.1,210.1L256.9,211.6L257.7,212.8L258.5,212.7L259.3,214.7L260.1,214.3L260.9,214.2L261.7,214.6L262.5,215.3L263.3,215.5L264.1,214.5L264.9,215.0L265.7,214.6L266.5,215.1L267.3,214.5L268.1,215.0L268.9,215.3L269.7,215.5L270.5,214.9L271.3,214.8L272.1,214.5L272.9,215.4L273.7,214.8L274.5,215.1L275.3,214.9L276.1,215.3L276.9,215.2L277.7,214.9L278.5,214.5L279.3,215.4L280.1,215.0L280.9,214.6L281.7,214.4L282.5,215.3L283.3,215.4L284.1,214.5L284.9,214.4L285.7,215.0L286.5,215.4L287.3,214.5L288.1,215.1L288.9,214.5L289.7,214.8L290.5,214.6L291.3,215.3L292.1,214.6L292.9,215.3L293.7,215.1L294.5,214.6L295.3,214.6L296.1,215.3L296.9,215.3L297.7,215.1L298.5,214.9L299.3,215.1L300.1,215.4L300.9,216.0Z" fill="#000" stroke="#000" stroke-width="0.5"/>
<path d="M216.1,216.0V128.0" fill="none" stroke="#222" stroke-width="1.1"/>
<path d="M216.1,128.0H300.9" fill="none" stroke="#666" stroke-width="1.6"/>
<path d="M300.9,127.5V216.0" fill="none" stroke="#555" stroke-width="1.5"/>
<path d="M216.1,216.0H300.9" fill="none" stroke="#000" stroke-width="1.7"/>
<path d="M216.1,216.00h-3.3M216.1,213.80h-1.9M216.1,211.60h-1.9M216.1,209.40h-1.9M216.1,207.20h-1.9M216.1,205.00h-1.9M216.1,202.80h-1.9M216.1,200.60h-1.9M216.1,198.40h-3.3M216.1,196.20h-1.9M216.1,194.00h-1.9M216.1,191.80h-1.9M216.1,189.60h-1.9M216.1,187.40h-1.9M216.1,185.20h-1.9M216.1,183.00h-1.9M216.1,180.80h-3.3M216.1,178.60h-1.9M216.1,176.40h-1.9M216.1,174.20h-1.9M216.1,172.00h-1.9M216.1,169.80h-1.9M216.1,167.60h-1.9M216.1,165.40h-1.9M216.1,163.20h-3.3M216.1,161.00h-1.9M216.1,158.80h-1.9M216.1,156.60h-1.9M216.1,154.40h-1.9M216.1,152.20h-1.9M216.1,150.00h-1.9M216.1,147.80h-1.9M216.1,145.60h-3.3M216.1,143.40h-1.9M216.1,141.20h-1.9M216.1,139.00h-1.9M216.1,136.80h-1.9M216.1,134.60h-1.9M216.1,132.40h-1.9M216.1,130.20h-1.9M216.1,128.00h-3.3" stroke="#000" stroke-width="1.05" fill="none"/>
<text class="tk" transform="translate(210.4,216.0) rotate(-90) scale(0.92,1)" text-anchor="middle">0</text>
<text class="tk" transform="translate(210.4,198.4) rotate(-90) scale(0.92,1)" text-anchor="middle">40</text>
<text class="tk" transform="translate(210.4,180.8) rotate(-90) scale(0.92,1)" text-anchor="middle">80</text>
<text class="tk" transform="translate(210.4,163.2) rotate(-90) scale(0.92,1)" text-anchor="middle">120</text>
<text class="tk" transform="translate(210.4,145.6) rotate(-90) scale(0.92,1)" text-anchor="middle">160</text>
<text class="tk" transform="translate(210.4,128.0) rotate(-90) scale(0.92,1)" text-anchor="middle">200</text>
<text class="ct" transform="translate(203.0,173.7) rotate(-90) scale(0.97,1)" text-anchor="middle">Counts</text>
<path d="M216.10,216.0v4.2M222.48,216.0v2.2M226.21,216.0v2.2M228.86,216.0v2.2M230.92,216.0v2.2M232.60,216.0v2.2M234.02,216.0v2.2M235.25,216.0v2.2M236.33,216.0v2.2M237.30,216.0v4.2M243.68,216.0v2.2M247.41,216.0v2.2M250.06,216.0v2.2M252.12,216.0v2.2M253.80,216.0v2.2M255.22,216.0v2.2M256.45,216.0v2.2M257.53,216.0v2.2M258.50,216.0v4.2M264.88,216.0v2.2M268.61,216.0v2.2M271.26,216.0v2.2M273.32,216.0v2.2M275.00,216.0v2.2M276.42,216.0v2.2M277.65,216.0v2.2M278.73,216.0v2.2M279.70,216.0v4.2M286.08,216.0v2.2M289.81,216.0v2.2M292.46,216.0v2.2M294.52,216.0v2.2M296.20,216.0v2.2M297.62,216.0v2.2M298.85,216.0v2.2M299.93,216.0v2.2M300.90,216.0v4.2" stroke="#000" stroke-width="0.8" fill="none"/>
<text class="xt" transform="translate(211.4,228.6) scale(0.8,1)">10</text><text class="sup" transform="translate(217.9,224.6) scale(0.9,1)">0</text>
<text class="xt" transform="translate(232.6,228.6) scale(0.8,1)">10</text><text class="sup" transform="translate(239.1,224.6) scale(0.9,1)">1</text>
<text class="xt" transform="translate(253.8,228.6) scale(0.8,1)">10</text><text class="sup" transform="translate(260.3,224.6) scale(0.9,1)">2</text>
<text class="xt" transform="translate(275.0,228.6) scale(0.8,1)">10</text><text class="sup" transform="translate(281.5,224.6) scale(0.9,1)">3</text>
<text class="xt" transform="translate(296.2,228.6) scale(0.8,1)">10</text><text class="sup" transform="translate(302.7,224.6) scale(0.9,1)">4</text>
<text class="fl" transform="translate(257.2,235.6) scale(0.78,1)" text-anchor="middle">FL1-H</text></g>
<g clip-path="url(#k2)"><path d="M336.50,216.20 L336.58,216.06 L336.67,215.90 L336.78,215.70 L336.91,215.47 L337.05,215.21 L337.21,214.93 L337.40,214.63 L337.60,214.30 L337.83,213.95 L338.09,213.59 L338.37,213.21 L338.67,212.79 L338.98,212.35 L339.29,211.87 L339.60,211.36 L339.90,210.80 L340.20,210.20 L340.51,209.57 L340.82,208.90 L341.14,208.19 L341.45,207.45 L341.75,206.67 L342.03,205.86 L342.30,205.00 L342.55,204.11 L342.79,203.20 L343.01,202.25 L343.23,201.27 L343.43,200.24 L343.63,199.15 L343.82,198.01 L344.00,196.80 L344.17,195.50 L344.34,194.12 L344.49,192.67 L344.63,191.17 L344.77,189.64 L344.91,188.11 L345.05,186.59 L345.20,185.10 L345.35,183.60 L345.51,182.04 L345.66,180.46 L345.82,178.89 L345.97,177.36 L346.12,175.92 L346.26,174.58 L346.40,173.40 L346.52,172.38 L346.63,171.51 L346.74,170.76 L346.84,170.08 L346.94,169.45 L347.05,168.83 L347.17,168.19 L347.30,167.50 L347.45,166.72 L347.61,165.86 L347.78,164.98 L347.96,164.12 L348.14,163.31 L348.32,162.61 L348.51,162.06 L348.70,161.70 L348.89,161.55 L349.09,161.56 L349.30,161.72 L349.51,161.99 L349.71,162.33 L349.92,162.72 L350.11,163.12 L350.30,163.50 L350.48,163.90 L350.66,164.36 L350.84,164.86 L351.01,165.39 L351.17,165.94 L351.32,166.48 L351.47,167.01 L351.60,167.50 L351.72,167.99 L351.83,168.49 L351.94,169.00 L352.03,169.50 L352.12,169.97 L352.19,170.38 L352.25,170.73 L352.30,171.00" fill="none" stroke="#000" stroke-width="1.05" stroke-dasharray="3.1 2.2" stroke-linejoin="round"/>
<path d="M321.6,217.3L321.6,216.5L322.4,216.0L323.2,215.8L324.0,216.8L324.8,216.2L325.6,216.0L326.4,216.8L327.2,215.9L328.0,216.7L328.8,216.1L329.6,216.2L330.4,216.1L331.2,216.5L332.0,216.3L332.8,216.2L333.6,216.3L334.4,216.1L335.2,216.3L336.0,216.3L336.8,216.8L337.6,216.1L338.4,216.3L339.2,216.3L340.0,215.9L340.8,215.0L341.6,215.1L342.4,214.8L343.2,214.4L344.0,213.3L344.8,211.8L345.6,210.3L346.4,208.3L347.2,205.4L348.0,201.7L348.8,195.9L349.6,189.3L350.4,180.1L351.2,172.4L352.0,171.2L352.8,168.4L353.6,163.6L354.4,165.5L355.2,163.9L356.0,167.1L356.8,170.6L357.6,176.6L358.4,181.7L359.2,185.9L360.0,190.5L360.8,194.6L361.6,198.6L362.4,205.9L363.2,208.8L364.0,210.6L364.8,210.8L365.6,213.7L366.4,214.2L367.2,214.2L368.0,214.5L368.8,214.9L369.6,216.1L370.4,215.7L371.2,216.5L372.0,216.1L372.8,215.7L373.6,216.2L374.4,216.1L375.2,216.5L376.0,216.8L376.8,216.8L377.6,216.6L378.4,216.1L379.2,216.3L380.0,216.2L380.8,215.8L381.6,216.7L382.4,216.6L383.2,216.1L384.0,216.8L384.8,216.8L385.6,216.4L386.4,216.7L387.2,216.4L388.0,216.6L388.8,216.2L389.6,216.2L390.4,216.6L391.2,216.1L392.0,216.3L392.8,216.7L393.6,215.8L394.4,216.5L395.2,216.6L396.0,216.7L396.8,216.1L397.6,215.8L398.4,215.9L399.2,216.4L400.0,216.5L400.8,216.8L401.6,216.1L402.4,216.2L403.2,216.4L404.0,216.1L404.8,216.3L405.6,215.8L406.4,216.0L407.2,216.5L408.0,217.3Z" fill="#000" stroke="#000" stroke-width="0.5"/>
<path d="M321.6,217.3V127.5H408.0V217.3" fill="none" stroke="#222" stroke-width="1.1"/>
<path d="M321.6,217.3H408.0" fill="none" stroke="#000" stroke-width="1.7"/>
<path d="M321.6,217.30h-3.3M321.6,214.81h-1.9M321.6,212.31h-1.9M321.6,209.82h-1.9M321.6,207.32h-1.9M321.6,204.83h-1.9M321.6,202.33h-3.3M321.6,199.84h-1.9M321.6,197.34h-1.9M321.6,194.85h-1.9M321.6,192.36h-1.9M321.6,189.86h-1.9M321.6,187.37h-3.3M321.6,184.87h-1.9M321.6,182.38h-1.9M321.6,179.88h-1.9M321.6,177.39h-1.9M321.6,174.89h-1.9M321.6,172.40h-3.3M321.6,169.91h-1.9M321.6,167.41h-1.9M321.6,164.92h-1.9M321.6,162.42h-1.9M321.6,159.93h-1.9M321.6,157.43h-3.3M321.6,154.94h-1.9M321.6,152.44h-1.9M321.6,149.95h-1.9M321.6,147.46h-1.9M321.6,144.96h-1.9M321.6,142.47h-3.3M321.6,139.97h-1.9M321.6,137.48h-1.9M321.6,134.98h-1.9M321.6,132.49h-1.9M321.6,129.99h-1.9M321.6,127.50h-3.3" stroke="#000" stroke-width="1.05" fill="none"/>
<text class="tk" transform="translate(315.9,217.3) rotate(-90) scale(0.92,1)" text-anchor="middle">0</text>
<text class="tk" transform="translate(315.9,202.3) rotate(-90) scale(0.92,1)" text-anchor="middle">30</text>
<text class="tk" transform="translate(315.9,187.4) rotate(-90) scale(0.92,1)" text-anchor="middle">60</text>
<text class="tk" transform="translate(315.9,172.4) rotate(-90) scale(0.92,1)" text-anchor="middle">90</text>
<text class="tk" transform="translate(315.9,157.4) rotate(-90) scale(0.92,1)" text-anchor="middle">120</text>
<text class="tk" transform="translate(315.9,142.5) rotate(-90) scale(0.92,1)" text-anchor="middle">150</text>
<text class="tk" transform="translate(315.9,127.5) rotate(-90) scale(0.92,1)" text-anchor="middle">180</text>
<text class="ct" transform="translate(309.3,174.1) rotate(-90) scale(0.97,1)" text-anchor="middle">Counts</text>
<path d="M321.60,217.3v4.2M328.10,217.3v2.2M331.91,217.3v2.2M334.60,217.3v2.2M336.70,217.3v2.2M338.41,217.3v2.2M339.85,217.3v2.2M341.11,217.3v2.2M342.21,217.3v2.2M343.20,217.3v4.2M349.70,217.3v2.2M353.51,217.3v2.2M356.20,217.3v2.2M358.30,217.3v2.2M360.01,217.3v2.2M361.45,217.3v2.2M362.71,217.3v2.2M363.81,217.3v2.2M364.80,217.3v4.2M371.30,217.3v2.2M375.11,217.3v2.2M377.80,217.3v2.2M379.90,217.3v2.2M381.61,217.3v2.2M383.05,217.3v2.2M384.31,217.3v2.2M385.41,217.3v2.2M386.40,217.3v4.2M392.90,217.3v2.2M396.71,217.3v2.2M399.40,217.3v2.2M401.50,217.3v2.2M403.21,217.3v2.2M404.65,217.3v2.2M405.91,217.3v2.2M407.01,217.3v2.2M408.00,217.3v4.2" stroke="#000" stroke-width="0.8" fill="none"/>
<text class="xt" transform="translate(316.9,229.9) scale(0.8,1)">10</text><text class="sup" transform="translate(323.4,225.9) scale(0.9,1)">0</text>
<text class="xt" transform="translate(338.5,229.9) scale(0.8,1)">10</text><text class="sup" transform="translate(345.0,225.9) scale(0.9,1)">1</text>
<text class="xt" transform="translate(360.1,229.9) scale(0.8,1)">10</text><text class="sup" transform="translate(366.6,225.9) scale(0.9,1)">2</text>
<text class="xt" transform="translate(381.7,229.9) scale(0.8,1)">10</text><text class="sup" transform="translate(388.2,225.9) scale(0.9,1)">3</text>
<text class="xt" transform="translate(403.3,229.9) scale(0.8,1)">10</text><text class="sup" transform="translate(409.8,225.9) scale(0.9,1)">4</text>
<text class="fl" transform="translate(363.5,236.9) scale(0.78,1)" text-anchor="middle">FL1-H</text></g>
<g clip-path="url(#k3)"><path d="M443.00,216.00 L443.10,215.88 L443.23,215.74 L443.38,215.57 L443.55,215.37 L443.74,215.14 L443.95,214.89 L444.17,214.61 L444.40,214.30 L444.66,213.96 L444.95,213.58 L445.26,213.17 L445.58,212.74 L445.91,212.28 L446.23,211.80 L446.53,211.31 L446.80,210.80 L447.05,210.30 L447.28,209.82 L447.50,209.33 L447.71,208.81 L447.92,208.25 L448.11,207.63 L448.31,206.92 L448.50,206.10 L448.69,205.17 L448.88,204.15 L449.06,203.05 L449.23,201.89 L449.40,200.67 L449.57,199.40 L449.74,198.11 L449.90,196.80 L450.06,195.45 L450.21,194.04 L450.35,192.59 L450.49,191.10 L450.64,189.59 L450.78,188.08 L450.94,186.58 L451.10,185.10 L451.28,183.60 L451.46,182.04 L451.65,180.46 L451.85,178.89 L452.05,177.36 L452.24,175.92 L452.42,174.58 L452.60,173.40 L452.76,172.38 L452.91,171.51 L453.05,170.76 L453.19,170.08 L453.33,169.45 L453.47,168.83 L453.63,168.19 L453.80,167.50 L453.99,166.72 L454.19,165.88 L454.41,165.01 L454.63,164.15 L454.86,163.35 L455.08,162.65 L455.29,162.08 L455.50,161.70 L455.70,161.50 L455.89,161.45 L456.08,161.53 L456.26,161.71 L456.45,161.97 L456.63,162.28 L456.81,162.64 L457.00,163.00 L457.19,163.42 L457.40,163.92 L457.61,164.50 L457.81,165.11 L458.01,165.75 L458.20,166.37 L458.36,166.96 L458.50,167.50 L458.61,168.01 L458.71,168.53 L458.78,169.04 L458.84,169.53 L458.89,169.99 L458.93,170.39 L458.97,170.74 L459.00,171.00" fill="none" stroke="#000" stroke-width="1.05" stroke-dasharray="3.1 2.2" stroke-linejoin="round"/>
<path d="M428.0,217.3L428.0,215.8L428.8,216.8L429.6,216.2L430.4,216.4L431.2,216.5L432.0,216.7L432.8,215.9L433.6,216.8L434.4,216.2L435.2,215.8L436.0,216.6L436.8,216.6L437.6,216.1L438.4,216.2L439.2,216.1L440.0,215.9L440.8,216.6L441.6,216.5L442.4,216.5L443.2,216.7L444.0,215.8L444.8,215.9L445.6,215.7L446.4,215.8L447.2,215.4L448.0,215.1L448.8,214.1L449.6,213.7L450.4,212.7L451.2,210.5L452.0,207.2L452.8,203.6L453.6,198.0L454.4,191.2L455.2,184.4L456.0,178.8L456.8,176.0L457.6,173.3L458.4,164.7L459.2,165.0L460.0,167.0L460.8,173.4L461.6,176.9L462.4,180.0L463.2,187.9L464.0,190.3L464.8,197.0L465.6,200.4L466.4,204.8L467.2,206.7L468.0,209.1L468.8,210.6L469.6,212.4L470.4,213.0L471.2,213.6L472.0,215.3L472.8,215.5L473.6,215.9L474.4,215.3L475.2,215.8L476.0,215.8L476.8,216.7L477.6,216.6L478.4,216.7L479.2,216.8L480.0,215.9L480.8,215.9L481.6,216.1L482.4,215.9L483.2,216.1L484.0,216.5L484.8,216.7L485.6,216.7L486.4,216.0L487.2,216.6L488.0,216.4L488.8,216.3L489.6,216.8L490.4,216.5L491.2,216.5L492.0,216.0L492.8,216.4L493.6,216.4L494.4,215.7L495.2,216.2L496.0,215.9L496.8,216.1L497.6,216.8L498.4,216.3L499.2,216.3L500.0,215.9L500.8,216.4L501.6,216.0L502.4,216.2L503.2,216.6L504.0,215.9L504.8,216.7L505.6,215.9L506.4,216.6L507.2,216.8L508.0,216.6L508.8,216.0L509.6,215.7L510.4,216.8L511.2,216.3L512.0,216.3L512.8,215.9L513.6,216.6L514.4,216.3L514.6,217.3Z" fill="#000" stroke="#000" stroke-width="0.5"/>
<path d="M428.0,217.3V127.5H514.6V217.3" fill="none" stroke="#222" stroke-width="1.1"/>
<path d="M428.0,217.3H514.6" fill="none" stroke="#000" stroke-width="1.7"/>
<path d="M428.0,217.30h-3.3M428.0,214.81h-1.9M428.0,212.31h-1.9M428.0,209.82h-1.9M428.0,207.32h-1.9M428.0,204.83h-1.9M428.0,202.33h-3.3M428.0,199.84h-1.9M428.0,197.34h-1.9M428.0,194.85h-1.9M428.0,192.36h-1.9M428.0,189.86h-1.9M428.0,187.37h-3.3M428.0,184.87h-1.9M428.0,182.38h-1.9M428.0,179.88h-1.9M428.0,177.39h-1.9M428.0,174.89h-1.9M428.0,172.40h-3.3M428.0,169.91h-1.9M428.0,167.41h-1.9M428.0,164.92h-1.9M428.0,162.42h-1.9M428.0,159.93h-1.9M428.0,157.43h-3.3M428.0,154.94h-1.9M428.0,152.44h-1.9M428.0,149.95h-1.9M428.0,147.46h-1.9M428.0,144.96h-1.9M428.0,142.47h-3.3M428.0,139.97h-1.9M428.0,137.48h-1.9M428.0,134.98h-1.9M428.0,132.49h-1.9M428.0,129.99h-1.9M428.0,127.50h-3.3" stroke="#000" stroke-width="1.05" fill="none"/>
<text class="tk" transform="translate(422.3,217.3) rotate(-90) scale(0.92,1)" text-anchor="middle">0</text>
<text class="tk" transform="translate(422.3,202.3) rotate(-90) scale(0.92,1)" text-anchor="middle">30</text>
<text class="tk" transform="translate(422.3,187.4) rotate(-90) scale(0.92,1)" text-anchor="middle">60</text>
<text class="tk" transform="translate(422.3,172.4) rotate(-90) scale(0.92,1)" text-anchor="middle">90</text>
<text class="tk" transform="translate(422.3,157.4) rotate(-90) scale(0.92,1)" text-anchor="middle">120</text>
<text class="tk" transform="translate(422.3,142.5) rotate(-90) scale(0.92,1)" text-anchor="middle">150</text>
<text class="tk" transform="translate(422.3,127.5) rotate(-90) scale(0.92,1)" text-anchor="middle">180</text>
<path d="M428.00,217.3v4.2M434.52,217.3v2.2M438.33,217.3v2.2M441.03,217.3v2.2M443.13,217.3v2.2M444.85,217.3v2.2M446.30,217.3v2.2M447.55,217.3v2.2M448.66,217.3v2.2M449.65,217.3v4.2M456.17,217.3v2.2M459.98,217.3v2.2M462.68,217.3v2.2M464.78,217.3v2.2M466.50,217.3v2.2M467.95,217.3v2.2M469.20,217.3v2.2M470.31,217.3v2.2M471.30,217.3v4.2M477.82,217.3v2.2M481.63,217.3v2.2M484.33,217.3v2.2M486.43,217.3v2.2M488.15,217.3v2.2M489.60,217.3v2.2M490.85,217.3v2.2M491.96,217.3v2.2M492.95,217.3v4.2M499.47,217.3v2.2M503.28,217.3v2.2M505.98,217.3v2.2M508.08,217.3v2.2M509.80,217.3v2.2M511.25,217.3v2.2M512.50,217.3v2.2M513.61,217.3v2.2M514.60,217.3v4.2" stroke="#000" stroke-width="0.8" fill="none"/>
<text class="xt" transform="translate(423.3,229.9) scale(0.8,1)">10</text><text class="sup" transform="translate(429.8,225.9) scale(0.9,1)">0</text>
<text class="xt" transform="translate(444.9,229.9) scale(0.8,1)">10</text><text class="sup" transform="translate(451.4,225.9) scale(0.9,1)">1</text>
<text class="xt" transform="translate(466.6,229.9) scale(0.8,1)">10</text><text class="sup" transform="translate(473.1,225.9) scale(0.9,1)">2</text>
<text class="xt" transform="translate(488.3,229.9) scale(0.8,1)">10</text><text class="sup" transform="translate(494.8,225.9) scale(0.9,1)">3</text>
<text class="xt" transform="translate(509.9,229.9) scale(0.8,1)">10</text><text class="sup" transform="translate(516.4,225.9) scale(0.9,1)">4</text>
<text class="fl" transform="translate(470.0,236.9) scale(0.78,1)" text-anchor="middle">FL1-H</text></g>
</g>
<path d="M41.2,268.5V562.8" stroke="#666" stroke-width="1.3" fill="none"/>
<path d="M41.2,562.8V598" stroke="#888" stroke-width="1.2" fill="none"/>
<path d="M41.0,562.8H520" stroke="#6a6a6a" stroke-width="1.6" fill="none"/>
<path d="M41.0,503.9h2.8M41.0,445.1h2.8M41.0,386.2h2.8M41.0,327.4h2.8M41.0,268.5h2.8" stroke="#444" stroke-width="0.9" fill="none"/>
<text class="sr" x="37.6" y="566.5" font-size="11.6" text-anchor="end">0</text>
<text class="sr" x="37.6" y="508.9" font-size="11.6" text-anchor="end">20</text>
<text class="sr" x="37.6" y="450.1" font-size="11.6" text-anchor="end">40</text>
<text class="sr" x="37.6" y="391.2" font-size="11.6" text-anchor="end">60</text>
<text class="sr" x="37.6" y="332.4" font-size="11.6" text-anchor="end">80</text>
<text class="sr" x="37.6" y="273.5" font-size="11.6" text-anchor="end">100</text>
<text class="sb" transform="translate(10.3,415.9) rotate(-90)" font-size="10.7" style="letter-spacing:0.42px" text-anchor="middle">Percentage of positive cells (<tspan dx="0.8">%</tspan><tspan dx="0.8">)</tspan></text>
<path d="M161.2,560.2V598M280.6,560.2V598M400.2,560.2V598M519.4,560.2V598M100.6,560.0V581M220.2,560.0V581M340.0,560.0V581M459.3,560.0V581" stroke="#5a5a5a" stroke-width="1" fill="none"/>
<path d="M70.5,551.8V547.4M68.7,547.4h3.6" stroke="#444" stroke-width="1" fill="none"/>
<rect x="58.8" y="552.3" width="23.4" height="10.5" fill="#fff" stroke="#444" stroke-width="1"/>
<path d="M130.5,551.0V546.2M128.7,546.2h3.6" stroke="#444" stroke-width="1" fill="none"/>
<rect x="118.2" y="551.0" width="24.6" height="11.8" fill="#000"/>
<path d="M190.3,430.5V397.1M188.5,397.1h3.6" stroke="#444" stroke-width="1" fill="none"/>
<rect x="178.6" y="431.0" width="23.5" height="131.8" fill="#fff" stroke="#444" stroke-width="1"/>
<path d="M250.4,435.8V404.5M248.6,404.5h3.6" stroke="#444" stroke-width="1" fill="none"/>
<rect x="238.2" y="435.8" width="24.5" height="127.0" fill="#000"/>
<path d="M310.5,339.5V305.6M308.7,305.6h3.6" stroke="#444" stroke-width="1" fill="none"/>
<rect x="298.6" y="340.0" width="23.7" height="222.8" fill="#fff" stroke="#444" stroke-width="1"/>
<path d="M369.9,491.1V458.7M368.1,458.7h3.6" stroke="#444" stroke-width="1" fill="none"/>
<rect x="357.5" y="491.1" width="24.7" height="71.7" fill="#000"/>
<path d="M429.7,541.8V530.0M427.9,530.0h3.6" stroke="#444" stroke-width="1" fill="none"/>
<rect x="418.1" y="542.3" width="23.2" height="20.5" fill="#fff" stroke="#444" stroke-width="1"/>
<path d="M489.4,540.8V530.8M487.6,530.8h3.6" stroke="#444" stroke-width="1" fill="none"/>
<rect x="477.5" y="540.8" width="23.9" height="22.0" fill="#000"/>
<text class="sr" transform="translate(70.8,578.5) scale(0.94,1)" font-size="11" text-anchor="middle">Neutropenia</text>
<text class="sr" transform="translate(70.6,591.3) scale(0.94,1)" font-size="11" text-anchor="middle">(-)</text>
<text class="sr" transform="translate(130.8,578.5) scale(0.94,1)" font-size="11" text-anchor="middle">Neutropenia</text>
<text class="sr" transform="translate(130.6,591.3) scale(0.94,1)" font-size="11" text-anchor="middle">(+)</text>
<text class="sr" transform="translate(190.5,578.5) scale(0.94,1)" font-size="11" text-anchor="middle">Neutropenia</text>
<text class="sr" transform="translate(190.3,591.3) scale(0.94,1)" font-size="11" text-anchor="middle">(-)</text>
<text class="sr" transform="translate(250.6,578.5) scale(0.94,1)" font-size="11" text-anchor="middle">Neutropenia</text>
<text class="sr" transform="translate(250.4,591.3) scale(0.94,1)" font-size="11" text-anchor="middle">(+)</text>
<text class="sr" transform="translate(310.5,578.5) scale(0.94,1)" font-size="11" text-anchor="middle">Neutropenia</text>
<text class="sr" transform="translate(310.3,591.3) scale(0.94,1)" font-size="11" text-anchor="middle">(-)</text>
<text class="sr" transform="translate(370.1,578.5) scale(0.94,1)" font-size="11" text-anchor="middle">Neutropenia</text>
<text class="sr" transform="translate(369.9,591.3) scale(0.94,1)" font-size="11" text-anchor="middle">(+)</text>
<text class="sr" transform="translate(429.8,578.5) scale(0.94,1)" font-size="11" text-anchor="middle">Neutropenia</text>
<text class="sr" transform="translate(429.6,591.3) scale(0.94,1)" font-size="11" text-anchor="middle">(-)</text>
<text class="sr" transform="translate(489.6,578.5) scale(0.94,1)" font-size="11" text-anchor="middle">Neutropenia</text>
<text class="sr" transform="translate(489.4,591.3) scale(0.94,1)" font-size="11" text-anchor="middle">(+)</text>
<text class="sr" x="99.5" y="596.8" font-size="10.8" text-anchor="middle">R1</text>
<text class="sr" x="219.5" y="596.8" font-size="10.8" text-anchor="middle">R2</text>
<text class="sr" x="339.7" y="596.8" font-size="10.8" text-anchor="middle">R3</text>
<text class="sr" x="457.9" y="596.8" font-size="10.8" text-anchor="middle">R4</text>
<path d="M311.4,287.7H370.7" stroke="#484848" stroke-width="1.4" fill="none"/>
<path transform="translate(337.6,278.2) rotate(90)" d="M0,0.4 L4.199999999999999,1.05 A1.1,1.05 0 0 0 4.199999999999999,-1.05 L0,-0.4Z" fill="#000"/><path transform="translate(337.6,278.2) rotate(150)" d="M0,0.4 L4.199999999999999,1.05 A1.1,1.05 0 0 0 4.199999999999999,-1.05 L0,-0.4Z" fill="#000"/><path transform="translate(337.6,278.2) rotate(210)" d="M0,0.4 L4.199999999999999,1.05 A1.1,1.05 0 0 0 4.199999999999999,-1.05 L0,-0.4Z" fill="#000"/><path transform="translate(337.6,278.2) rotate(270)" d="M0,0.4 L4.199999999999999,1.05 A1.1,1.05 0 0 0 4.199999999999999,-1.05 L0,-0.4Z" fill="#000"/><path transform="translate(337.6,278.2) rotate(330)" d="M0,0.4 L4.199999999999999,1.05 A1.1,1.05 0 0 0 4.199999999999999,-1.05 L0,-0.4Z" fill="#000"/><path transform="translate(337.6,278.2) rotate(390)" d="M0,0.4 L4.199999999999999,1.05 A1.1,1.05 0 0 0 4.199999999999999,-1.05 L0,-0.4Z" fill="#000"/>
</g></svg></body></html>
